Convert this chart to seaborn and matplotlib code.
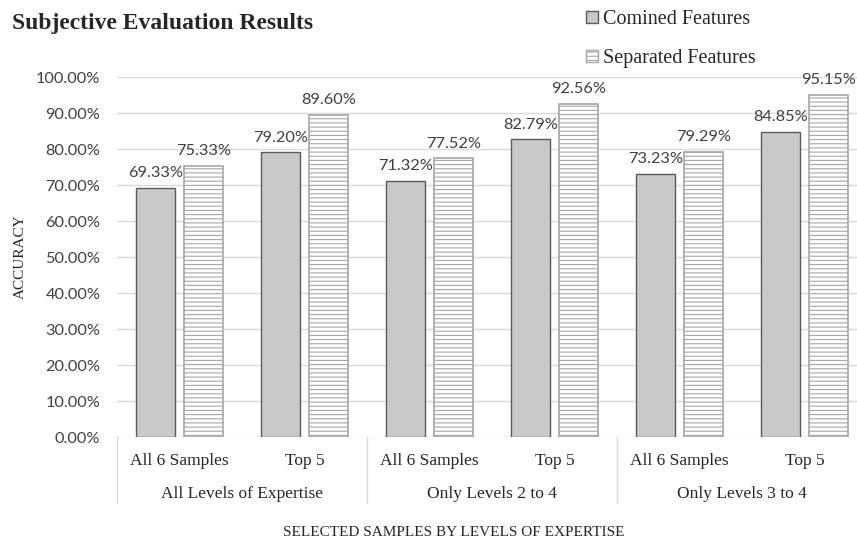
import numpy as np
import pandas as pd
import matplotlib.pyplot as plt
import matplotlib.patches as mpatches
import seaborn as sns

# ==========================================================
#                         DATA
# ==========================================================
groups = ["All Levels of Expertise", "Only Levels 2 to 4", "Only Levels 3 to 4"]
subsets = ["All 6 Samples", "Top 5"]
series = ["Comined Features", "Separated Features"]
combined = [69.33, 79.20, 71.32, 82.79, 73.23, 84.85]
separated = [75.33, 89.60, 77.52, 92.56, 79.29, 95.15]

slots = [f"{g} | {s}" for g in groups for s in subsets]
df = pd.DataFrame({
    "slot": slots * 2,
    "accuracy": combined + separated,
    "series": [series[0]] * len(slots) + [series[1]] * len(slots),
})

# ==========================================================
#                        STYLE
# ==========================================================
sns.set_style("white")
plt.rcParams["hatch.linewidth"] = 0.8
plt.rcParams["hatch.color"] = "#a6a6a6"

SANS = "Lato"
SERIF = "Liberation Serif"
TXT = "#404040"
DARK = "#262626"
GRID = "#d9d9d9"

W, H = 857, 542
fig = plt.figure(figsize=(W / 100, H / 100), dpi=100)
ax = fig.add_axes([117 / W, (H - 437.3) / H, 750 / W, 360 / H])

# ==========================================================
#                        BARS
# ==========================================================
sns.barplot(
    data=df, x="slot", y="accuracy", hue="series",
    order=slots, hue_order=series,
    palette=["#c9c9c9", "white"],
    width=0.768, gap=0.1875, errorbar=None, legend=False,
    ax=ax, zorder=3,
)

c_comb, c_sep = ax.containers[0], ax.containers[1]
for bar in c_comb:
    bar.set_edgecolor("#5a5a5a")
    bar.set_linewidth(1.0)
for bar in c_sep:
    bar.set_facecolor("white")
    bar.set_edgecolor("#a6a6a6")
    bar.set_linewidth(1.2)
    bar.set_hatch("----")

for cont, vals in [(c_comb, combined), (c_sep, separated)]:
    ax.bar_label(cont, labels=[f"{v:.2f}%" for v in vals], padding=5.5,
                 fontsize=11.8, family=SANS, color=TXT)

# ==========================================================
#                        AXES
# ==========================================================
ax.set_ylim(0, 100)
ax.set_xlim(-0.5, len(slots) - 0.5)
ax.set_yticks(np.arange(0, 101, 10))
ax.set_yticklabels([f"{t:.2f}%" for t in np.arange(0, 101, 10)],
                   family=SANS, fontsize=11.7, color=TXT)
ax.yaxis.grid(True, color=GRID, linewidth=1.0, zorder=0)
ax.set_axisbelow(True)
for s in ax.spines.values():
    s.set_visible(False)

ax.set_xticks(range(len(slots)))
ax.set_xticklabels(subsets * len(groups), family=SERIF, fontsize=12.5, color=DARK)
ax.tick_params(axis="x", length=0, pad=11.5)
ax.tick_params(axis="y", length=0, pad=12)
ax.set_xlabel("")
ax.set_ylabel("")

# category box below the axis
trans = ax.get_xaxis_transform()
for xb in np.arange(-0.5, len(slots), len(subsets)):
    ax.plot([xb, xb], [0, -0.183], transform=trans, color=GRID,
            linewidth=1.0, clip_on=False)
for i, g in enumerate(groups):
    xc = i * len(subsets) + (len(subsets) - 1) / 2
    ax.text(xc, -0.158, g, transform=trans, ha="center", va="center",
            family=SERIF, fontsize=12.5, color=DARK)

# titles
fig.text(454 / W, 1 - 532 / H, "SELECTED SAMPLES BY LEVELS OF EXPERTISE",
         ha="center", va="center", family=SERIF, fontsize=11, color=DARK)
fig.text(20 / W, 1 - 257 / H, "ACCURACY", rotation=90,
         ha="center", va="center", family=SERIF, fontsize=11, color=DARK)
fig.text(12 / W, 1 - 23.5 / H, "Subjective Evaluation Results",
         ha="left", va="center", family=SERIF, fontsize=17,
         fontweight="bold", color=DARK)

# legend
handles = [
    mpatches.Patch(facecolor="#c9c9c9", edgecolor="#5a5a5a", linewidth=1.0),
    mpatches.Patch(facecolor="white", edgecolor="#a6a6a6", linewidth=1.0, hatch="----"),
]
fig.legend(handles, series, loc="upper left",
           bbox_to_anchor=(586 / W, 1 - 10 / H),
           frameon=False, borderpad=0, borderaxespad=0,
           handlelength=0.6, handleheight=0.6, handletextpad=0.25,
           labelspacing=1.0,
           prop={"family": SERIF, "size": 14.5}, labelcolor=DARK)

plt.savefig("out.png", dpi=100)
plt.close()
